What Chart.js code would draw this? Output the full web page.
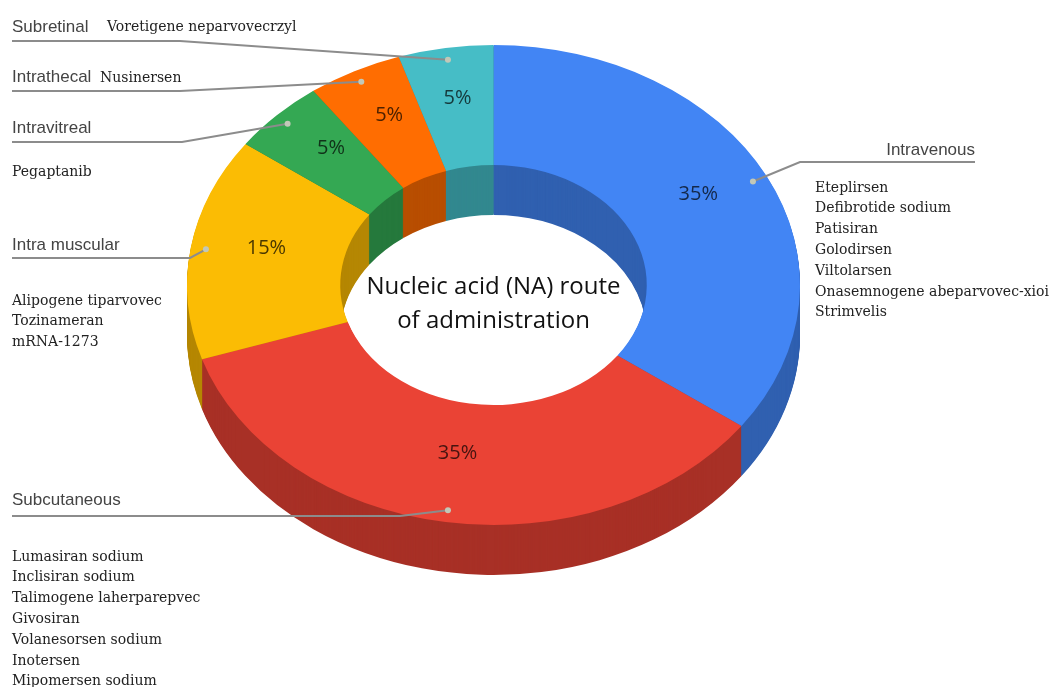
<!DOCTYPE html>
<html lang="en">
<head>
  <meta charset="UTF-8" />
  <title>Nucleic acid (NA) route of administration</title>
  <script src="https://cdn.jsdelivr.net/npm/chart.js"></script>
  <style>
    html, body { margin: 0; padding: 0; background: #fff; }
    #wrap { position: relative; width: 1054px; height: 687px; }
  </style>
</head>
<body>
  <div id="wrap">
    <canvas id="routeChart"></canvas>
  </div>

  <script>
    // --- data ---
    const routes = ["Intravenous", "Subcutaneous", "Intra muscular", "Intravitreal", "Intrathecal", "Subretinal"];
    const shares = [35, 35, 15, 5, 5, 5];
    const sliceColors = ["#4285f4", "#ea4335", "#fbbc04", "#34a853", "#ff6d01", "#46bdc6"];

    const intravenousDrugs  = ["Eteplirsen", "Defibrotide sodium", "Patisiran", "Golodirsen", "Viltolarsen", "Onasemnogene abeparvovec-xioi", "Strimvelis"];
    const subcutaneousDrugs = ["Lumasiran sodium", "Inclisiran sodium", "Talimogene laherparepvec", "Givosiran", "Volanesorsen sodium", "Inotersen", "Mipomersen sodium"];
    const intramuscularDrugs = ["Alipogene tiparvovec", "Tozinameran", "mRNA-1273"];
    const intravitrealDrugs = ["Pegaptanib"];
    const intrathecalDrugs  = ["Nusinersen"];
    const subretinalDrugs   = ["Voretigene neparvovecrzyl"];
    const drugLists = [intravenousDrugs, subcutaneousDrugs, intramuscularDrugs, intravitrealDrugs, intrathecalDrugs, subretinalDrugs];

    const centerTitle = ["Nucleic acid (NA) route", "of administration"];

    // --- look of the fake 3D ring ---
    const FACE_Y = 285;    // screen y of the ring centre
    const TILT   = 0.783;  // vertical squash of the top face
    const DEPTH  = 50;     // thickness of the ring in px
    const LINE_H = 20.8;

    // where each callout label sits (same order as routes)
    const callouts = [
      { x: 975, y: 150, align: "right", lineY: 162, elbow: 800, listX: 815, listY: 188 },
      { x: 12,  y: 500, align: "left",  lineY: 516, elbow: 400, listX: 12,  listY: 557 },
      { x: 12,  y: 245, align: "left",  lineY: 258, elbow: 190, listX: 12,  listY: 301 },
      { x: 12,  y: 128, align: "left",  lineY: 142, elbow: 182, listX: 12,  listY: 172 },
      { x: 12,  y: 77,  align: "left",  lineY: 91,  elbow: 180, listX: 100, listY: 78  },
      { x: 12,  y: 27,  align: "left",  lineY: 41,  elbow: 180, listX: 107, listY: 27  }
    ];

    function shade(hex, f) {
      const n = parseInt(hex.slice(1), 16);
      const r = Math.round(((n >> 16) & 255) * f);
      const g = Math.round(((n >> 8) & 255) * f);
      const b = Math.round((n & 255) * f);
      return "rgb(" + r + "," + g + "," + b + ")";
    }

    // squash + move the chart's own arcs so the ring looks tilted
    function tiltCtx(ctx, cy, dy) {
      ctx.translate(0, FACE_Y + dy);
      ctx.scale(1, TILT);
      ctx.translate(0, -cy);
    }

    function project(cx, cy, r, ang) {
      return { x: cx + r * Math.cos(ang), y: FACE_Y + r * Math.sin(ang) * TILT };
    }

    const ring3d = {
      id: "ring3d",
      beforeDatasetsDraw(chart) {
        const ctx = chart.ctx;
        const arcs = chart.getDatasetMeta(0).data;
        const cy = arcs[0].y;
        // side walls: stack darker copies of each slice going down
        for (let d = DEPTH; d >= 1; d--) {
          arcs.forEach((arc, i) => {
            ctx.save();
            tiltCtx(ctx, cy, d);
            ctx.beginPath();
            ctx.arc(arc.x, arc.y, arc.outerRadius, arc.startAngle, arc.endAngle);
            ctx.arc(arc.x, arc.y, arc.innerRadius, arc.endAngle, arc.startAngle, true);
            ctx.closePath();
            ctx.fillStyle = shade(sliceColors[i], 0.72);
            ctx.fill();
            ctx.restore();
          });
        }
        ctx.save();
        tiltCtx(ctx, cy, 0);
      },
      afterDatasetsDraw(chart) {
        const ctx = chart.ctx;
        ctx.restore();
        const arcs = chart.getDatasetMeta(0).data;
        const total = shares.reduce((a, b) => a + b, 0);

        // percentages
        ctx.save();
        ctx.font = "500 20px 'Open Sans'";
        ctx.textAlign = "center";
        ctx.textBaseline = "middle";
        arcs.forEach((arc, i) => {
          const mid = (arc.startAngle + arc.endAngle) / 2;
          const p = project(arc.x, arc.y, (arc.innerRadius + arc.outerRadius) / 2, mid);
          ctx.fillStyle = shade(sliceColors[i], 0.3);
          ctx.fillText(Math.round(shares[i] / total * 100) + "%", p.x, p.y - 9);
        });
        ctx.restore();

        // callouts
        ctx.save();
        arcs.forEach((arc, i) => {
          const c = callouts[i];
          const mid = (arc.startAngle + arc.endAngle) / 2;
          const dot = project(arc.x, arc.y, arc.outerRadius * 0.95, mid);

          ctx.strokeStyle = "#8c8c8c";
          ctx.lineWidth = 2;
          ctx.beginPath();
          ctx.moveTo(c.x, c.lineY);
          ctx.lineTo(c.elbow, c.lineY);
          ctx.lineTo(dot.x, dot.y);
          ctx.stroke();

          ctx.fillStyle = "#c2c8b8";
          ctx.beginPath();
          ctx.arc(dot.x, dot.y, 3, 0, Math.PI * 2);
          ctx.fill();

          ctx.fillStyle = "#444";
          ctx.font = "17px 'Liberation Sans'";
          ctx.textAlign = c.align;
          ctx.textBaseline = "middle";
          ctx.fillText(routes[i], c.x, c.y);

          ctx.fillStyle = "#222";
          ctx.font = "14px 'DejaVu Serif'";
          ctx.textAlign = "left";
          drugLists[i].forEach((name, j) => ctx.fillText(name, c.listX, c.listY + j * LINE_H));
        });
        ctx.restore();

        // centre title
        const a0 = arcs[0];
        ctx.save();
        ctx.fillStyle = "#111";
        ctx.font = "500 24px 'Open Sans'";
        ctx.textAlign = "center";
        ctx.textBaseline = "middle";
        ctx.fillText(centerTitle[0], a0.x, FACE_Y + 2);
        ctx.fillText(centerTitle[1], a0.x, FACE_Y + 36);
        ctx.restore();
      }
    };

    new Chart(document.getElementById("routeChart"), {
      type: "doughnut",
      data: {
        labels: routes,
        datasets: [{
          data: shares,
          backgroundColor: sliceColors,
          borderWidth: 0,
          hoverOffset: 0,
          offset: 0
        }]
      },
      options: {
        responsive: true,
        maintainAspectRatio: false,
        animation: false,
        events: [],
        cutout: "50%",
        layout: { padding: { left: 187, right: 254, top: 37, bottom: 37 } },
        plugins: { legend: { display: false }, tooltip: { enabled: false } }
      },
      plugins: [ring3d]
    });
  </script>
</body>
</html>
